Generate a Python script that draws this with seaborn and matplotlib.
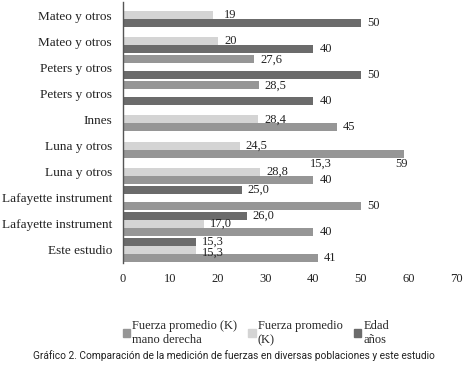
import numpy as np
import pandas as pd
import matplotlib
matplotlib.use("Agg")
import matplotlib.pyplot as plt
import matplotlib.patches as mpatches
import seaborn as sns

# data (three bar slots per row: top, middle, bottom)
labels = ["Mateo y otros", "Mateo y otros", "Peters y otros", "Peters y otros", "Innes",
          "Luna y otros", "Luna y otros", "Lafayette instrument", "Lafayette instrument",
          "Este estudio"]
R = "Fuerza promedio (K)\nmano derecha"
K = "Fuerza promedio\n(K)"
E = "Edad\naños"
series_names = [R, K, E]

top_vals = [np.nan, np.nan, 27.6, 28.5, np.nan, np.nan, np.nan, 25.0, 26.0, 15.3]
top_series = [None, None, R, R, None, None, None, E, E, E]
top_dec = [1] * 10
mid_vals = [19, 20, np.nan, np.nan, 28.4, 24.5, 28.8, np.nan, 17.0, 15.3]
mid_series = [K] * 10
mid_dec = [0, 0, 1, 1, 1, 1, 1, 1, 1, 1]
bot_vals = [50, 40, 50, 40, 45, 59, 40, 50, 40, 41]
bot_series = [E, E, E, E, R, R, R, R, R, R]
bot_dec = [0] * 10
stray_label = "15,3"  # floating label next to second "Luna y otros"

colors = {R: "#969696", K: "#d4d4d4", E: "#6b6b6b"}
serif = "Liberation Serif"

slots = ["top", "mid", "bot"]
rows = []
for slot, vals, ser, dec in zip(slots, [top_vals, mid_vals, bot_vals],
                                [top_series, mid_series, bot_series],
                                [top_dec, mid_dec, bot_dec]):
    for i, (v, s, d) in enumerate(zip(vals, ser, dec)):
        rows.append({"row": str(i), "slot": slot, "value": v, "series": s, "dec": d})
df = pd.DataFrame(rows)
df["plot_value"] = df["value"].fillna(0.0)

sns.set_style("white")
plt.rcParams["font.family"] = [serif, "DejaVu Serif"]

fig = plt.figure(figsize=(4.67, 3.65), dpi=100)
ax = fig.add_axes([0.2634, 0.2795, 0.713, 0.715])

sns.barplot(data=df, y="row", x="plot_value", hue="slot", hue_order=slots,
            orient="h", width=0.92, gap=0, palette=["#999999"] * 3,
            legend=False, ax=ax, errorbar=None, saturation=1)

# recolor bars by the series they belong to and label them
for cont, slot in zip(ax.containers, slots):
    sub = df[df["slot"] == slot].reset_index(drop=True)
    for bar, (_, r) in zip(cont, sub.iterrows()):
        bar.set_linewidth(0)
        if pd.isna(r["value"]):
            bar.set_visible(False)
            continue
        bar.set_facecolor(colors[r["series"]])
        txt = f"{r['value']:.{int(r['dec'])}f}".replace(".", ",")
        yc = bar.get_y() + bar.get_height() / 2
        dx, dy, ha = 6, 0, "left"
        if slot == "bot" and r["value"] == max(bot_vals):
            dx, dy, ha = 4, -10, "right"
        if slot == "mid" and r["row"] == "9":
            dy = -3
        if slot == "mid" and r["row"] == "0":
            dx = 11
        ax.annotate(txt, (r["value"], yc), xytext=(dx, dy), textcoords="offset pixels",
                    ha=ha, va="center", fontsize=9, color="#222222")

# stray label above the second Luna row
luna2 = ax.containers[0][6]
ax.annotate(stray_label, (41, luna2.get_y() + luna2.get_height() / 2), xytext=(-8, 0),
            textcoords="offset pixels", ha="left", va="center", fontsize=9, color="#222222")

ax.set_xlim(0, 70)
ax.set_xticks(range(0, 71, 10))
ax.set_yticks(range(len(labels)))
ax.set_yticklabels(labels)
ax.set_ylim(9.5, -0.5)
ax.set_xlabel("")
ax.set_ylabel("")
ax.tick_params(axis="both", length=0, labelsize=9.5, colors="#222222")
ax.tick_params(axis="x", pad=7, labelsize=9)
ax.tick_params(axis="y", pad=8)
for side in ["top", "right", "bottom"]:
    ax.spines[side].set_visible(False)
ax.spines["left"].set_color("#555555")
ax.spines["left"].set_linewidth(1.0)

handles = [mpatches.Patch(color=colors[s], label=s) for s in series_names]
fig.legend(handles=handles, loc="upper left", bbox_to_anchor=(0.252, 0.136), ncol=3,
           frameon=False, fontsize=9, handlelength=0.6, handleheight=0.6,
           handletextpad=0.15, columnspacing=0.9, borderaxespad=0, labelspacing=0.2,
           bbox_transform=fig.transFigure)

fig.text(0.5, 0.027, "Gráfico 2. Comparación de la medición de fuerzas en diversas poblaciones y este estudio",
         ha="center", va="center", fontsize=7.3, family=["Roboto", "DejaVu Sans"],
         color="#222222")

fig.savefig("out.png", dpi=100)
